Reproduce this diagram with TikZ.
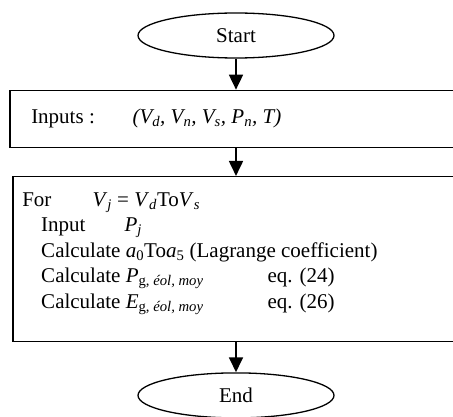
\documentclass[tikz,border=0pt]{standalone}
\usepackage{fontspec}
\setmainfont{Liberation Serif}
\usetikzlibrary{positioning, arrows.meta, shapes.geometric}
\newcommand{\lsub}[1]{\textsubscript{#1}}

\begin{document}
\begin{tikzpicture}[
      x=1pt, y=1pt,
      node distance=31pt,
      every node/.style={font=\fontsize{21}{25.5}\selectfont},
      term/.style={draw, ellipse, line width=1.3pt, minimum width=196pt, minimum height=45pt, inner sep=0pt},
      box/.style={draw, rectangle, line width=1.3pt, inner sep=0pt},
      txt/.style={align=left, inner sep=0pt, anchor=base west},
      flow/.style={-{Triangle[length=15pt, width=14pt]}, line width=1.8pt}
    ]
    \useasboundingbox (0,0) rectangle (453,-417);
    \clip (0,0) rectangle (453,-417);
    \node[term] (start) at (236,-35.5) {Start};
    \node[box, minimum width=452pt, minimum height=57pt] (inputs) [below=of start] {};
    \node[box, minimum width=446pt, minimum height=165pt] (loop) [below=28pt of inputs] {};
    \node[term] (stop) [below=30pt of loop] {End};
    \node[txt] (inputstext) at ([shift={(21.7,-33.5)}]inputs.north west) {\makebox[101.3pt][l]{Inputs :}\textit{(V\lsub{d}, V\lsub{n}, V\lsub{s}, P\lsub{n}, T)}};
    \node[txt, anchor=north west] (looptext) at ([shift={(9.7,-12.15)}]loop.north west) {\strut\makebox[70.3pt][l]{For}\textit{V}\lsub{\textit{j}} = \textit{V}\lsub{\textit{d}}To\textit{V}\lsub{\textit{s}}\\
      \strut\hspace*{19pt}\makebox[83.3pt][l]{Input}\textit{P}\lsub{\textit{j}}\\
      \strut\hspace*{19pt}Calculate \textit{a}\lsub{0}To\textit{a}\lsub{5} (Lagrange coefficient)\\
      \strut\hspace*{19pt}\makebox[226.3pt][l]{Calculate \textit{P}\lsub{g, \textit{éol, moy}}}eq. (24)\\
      \strut\hspace*{19pt}\makebox[226.3pt][l]{Calculate \textit{E}\lsub{g, \textit{éol, moy}}}eq. (26)};

    \draw[flow] (start.south) -- (inputs.north);
    \draw[flow] (inputs.south) -- (loop.north);
    \draw[flow] (loop.south) -- (stop.north);
\end{tikzpicture}
\end{document}
